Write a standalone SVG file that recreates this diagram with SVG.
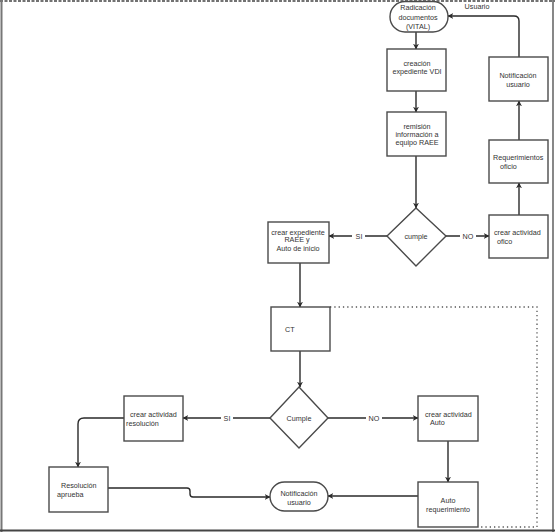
<svg xmlns="http://www.w3.org/2000/svg" width="555" height="532" viewBox="0 0 555 532">
<style>
.box{fill:#fff;stroke:#4a4a4a;stroke-width:1.4}
.t{font-family:"Liberation Sans",Arial,sans-serif;font-size:7.2px;fill:#333}
.c{text-anchor:middle}
.ln{fill:none;stroke:#2a2a2a;stroke-width:1.4}
.dot{fill:none;stroke:#555;stroke-width:1.3;stroke-dasharray:1.3 3}
</style>
<defs>
<marker id="ah" viewBox="0 0 10 10" refX="9" refY="5" markerWidth="6" markerHeight="6" orient="auto" markerUnits="userSpaceOnUse">
<path d="M0,0 L10,5 L0,10 L3,5 Z" fill="#2a2a2a"/>
</marker>
</defs>
<rect width="555" height="532" fill="#fff"/>
<g id="frame">
<line x1="0" y1="1" x2="555" y2="1" stroke="#444" stroke-width="1.4" stroke-dasharray="3 1.5"/>
<line x1="1.5" y1="0" x2="1.5" y2="532" stroke="#777" stroke-width="2"/>
<line x1="553" y1="0" x2="553" y2="532" stroke="#555" stroke-width="1.4"/>
<line x1="0" y1="530.5" x2="555" y2="530.5" stroke="#444" stroke-width="2"/>
</g>
<g id="connectors">
<line class="ln" x1="416" y1="32" x2="416" y2="49" marker-end="url(#ah)"/>
<line class="ln" x1="416" y1="91" x2="416" y2="112" marker-end="url(#ah)"/>
<line class="ln" x1="416" y1="156" x2="416" y2="208" marker-end="url(#ah)"/>
<line class="ln" x1="387" y1="236" x2="329" y2="236" marker-end="url(#ah)"/>
<line class="ln" x1="446" y1="236" x2="489" y2="236" marker-end="url(#ah)"/>
<line class="ln" x1="519" y1="215" x2="519" y2="183" marker-end="url(#ah)"/>
<line class="ln" x1="519" y1="140" x2="519" y2="101" marker-end="url(#ah)"/>
<path class="ln" d="M519,57 L519,21 Q519,16 514,16 L448,16" marker-end="url(#ah)"/>
<line class="ln" x1="300" y1="263" x2="300" y2="307" marker-end="url(#ah)"/>
<line class="ln" x1="300" y1="351" x2="300" y2="387" marker-end="url(#ah)"/>
<line class="ln" x1="270" y1="418" x2="183" y2="418" marker-end="url(#ah)"/>
<line class="ln" x1="328" y1="418" x2="418" y2="418" marker-end="url(#ah)"/>
<line class="ln" x1="448" y1="441" x2="448" y2="482" marker-end="url(#ah)"/>
<line class="ln" x1="418" y1="496" x2="328" y2="496" marker-end="url(#ah)"/>
<path class="ln" d="M124,418 L84,418 Q78,418 78,424 L78,467" marker-end="url(#ah)"/>
<path class="ln" d="M108,488 L187,488 Q190,488 190,491 L190,494 Q190,497 193,497 L270,497" marker-end="url(#ah)"/>
<path class="dot" d="M330,307 L537,307 L537,527 L478,527"/>
<rect x="352" y="231" width="13" height="10" fill="#fff"/>
<text class="t c" x="359" y="238.5">SI</text>
<rect x="460" y="231" width="16" height="10" fill="#fff"/>
<text class="t c" x="468" y="238.5">NO</text>
<rect x="221" y="413" width="12" height="10" fill="#fff"/>
<text class="t c" x="227" y="420.5">SI</text>
<rect x="366" y="413" width="16" height="10" fill="#fff"/>
<text class="t c" x="374" y="420.5">NO</text>
<text class="t c" x="477" y="9">Usuario</text>
</g>
<g id="n-radicacion">
<rect class="box" x="390" y="1.5" width="58" height="30.5" rx="15" ry="15"/>
<text class="t c" x="418" y="10">Radicación</text>
<text class="t c" x="418" y="19.5">documentos</text>
<text class="t c" x="418" y="29">(VITAL)</text>
</g>
<g id="n-creacion">
<rect class="box" x="387" y="49" width="59" height="42"/>
<text class="t c" x="417" y="65.5">creación</text>
<text class="t c" x="417" y="74">expediente VDI</text>
</g>
<g id="n-remision">
<rect class="box" x="387" y="112" width="59" height="44"/>
<text class="t c" x="417" y="128.5">remisión</text>
<text class="t c" x="417" y="136.5">información a</text>
<text class="t c" x="417" y="145">equipo RAEE</text>
</g>
<g id="n-notif-top">
<rect class="box" x="489" y="57" width="59" height="44"/>
<text class="t c" x="518" y="77.5">Notificación</text>
<text class="t c" x="518" y="86.5">usuario</text>
</g>
<g id="n-requerimientos">
<rect class="box" x="489" y="140" width="59" height="43"/>
<text class="t" x="493" y="159.5">Requerimientos</text>
<text class="t" x="500" y="168.5">oficio</text>
</g>
<g id="n-cumple">
<polygon class="box" points="416,208 446,236 416,266 387,236"/>
<text class="t c" x="416" y="238.5">cumple</text>
</g>
<g id="n-oficio">
<rect class="box" x="489" y="215" width="59" height="43"/>
<text class="t" x="494" y="234.5">crear actividad</text>
<text class="t" x="497" y="243.5">ofico</text>
</g>
<g id="n-expediente">
<rect class="box" x="268" y="222" width="61" height="41"/>
<text class="t c" x="298" y="234.5">crear expediente</text>
<text class="t c" x="297" y="242">RAEE y</text>
<text class="t c" x="298" y="251">Auto de inicio</text>
</g>
<g id="n-ct">
<rect class="box" x="271" y="307" width="59" height="44"/>
<text class="t" x="285" y="331.5">CT</text>
</g>
<g id="n-cumple2">
<polygon class="box" points="299,387 328,418 299,448 270,418"/>
<text class="t c" x="299" y="420.5">Cumple</text>
</g>
<g id="n-auto">
<rect class="box" x="418" y="396" width="60" height="45"/>
<text class="t" x="425" y="416.5">crear actividad</text>
<text class="t" x="430" y="424.5">Auto</text>
</g>
<g id="n-autoreq">
<rect class="box" x="418" y="482" width="60" height="45"/>
<text class="t c" x="448" y="502.5">Auto</text>
<text class="t c" x="448" y="511.5">requerimiento</text>
</g>
<g id="n-notif-bottom">
<rect class="box" x="270" y="482" width="58" height="29" rx="14.5" ry="14.5"/>
<text class="t c" x="299" y="495.5">Notificación</text>
<text class="t c" x="299" y="504.5">usuario</text>
</g>
<g id="n-resolucion">
<rect class="box" x="124" y="396" width="59" height="45"/>
<text class="t" x="130" y="416.5">crear actividad</text>
<text class="t" x="126" y="425.5">resolución</text>
</g>
<g id="n-aprueba">
<rect class="box" x="49" y="467" width="59" height="45"/>
<text class="t" x="61" y="487.5">Resolución</text>
<text class="t" x="57" y="496.5">aprueba</text>
</g>
</svg>
